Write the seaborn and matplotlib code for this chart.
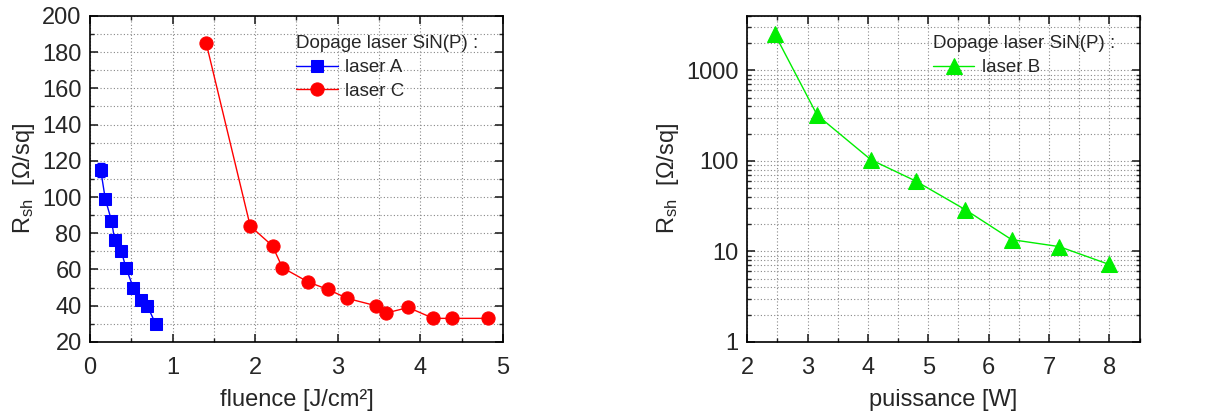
import numpy as np
import pandas as pd
import matplotlib
matplotlib.use("Agg")
import matplotlib.pyplot as plt
import seaborn as sns
from matplotlib.ticker import MultipleLocator, LogLocator, FixedLocator, NullFormatter

# laser A (fluence)
fluence_a = [0.13, 0.185, 0.26, 0.30, 0.38, 0.435, 0.524, 0.617, 0.694, 0.794]
rsh_a = [115, 99, 87, 76, 70, 61, 50, 43, 40, 30]
err_a = [4, 1.5, 1.5, 1.5, 1.5, 1.5, 1, 1, 1, 1]

# laser C (fluence)
fluence_c = [1.407, 1.94, 2.21, 2.33, 2.645, 2.88, 3.117, 3.46, 3.59, 3.855, 4.157, 4.387, 4.82]
rsh_c = [185, 84, 73, 61, 53, 49, 44, 40, 36, 39, 33, 33, 33]

# laser B (puissance)
power_b = [2.46, 3.16, 4.05, 4.79, 5.61, 6.38, 7.17, 7.99]
rsh_b = [2500, 320, 103, 60, 29, 13.5, 11.3, 7.2]

sns.set_style("ticks")
plt.rcParams['font.family'] = ['Liberation Sans', 'DejaVu Sans']
plt.rcParams['mathtext.fontset'] = 'custom'
plt.rcParams['mathtext.rm'] = 'Liberation Sans'
plt.rcParams['mathtext.it'] = 'Liberation Sans'

fig = plt.figure(figsize=(12.11, 4.19), dpi=100)
ax1 = fig.add_axes([0.0743, 0.184, 0.341, 0.778])
ax2 = fig.add_axes([0.617, 0.184, 0.324, 0.778])

df_a = pd.DataFrame({'x': fluence_a, 'y': rsh_a})
df_c = pd.DataFrame({'x': fluence_c, 'y': rsh_c})
df_b = pd.DataFrame({'x': power_b, 'y': rsh_b})

ax1.errorbar(fluence_a, rsh_a, yerr=err_a, fmt='none', ecolor='blue', elinewidth=1, capsize=3, zorder=3)
sns.lineplot(data=df_a, x='x', y='y', ax=ax1, color='blue', marker='s', markersize=8.5,
             markeredgecolor='blue', linewidth=1, label='laser A', sort=False, zorder=4)
sns.lineplot(data=df_c, x='x', y='y', ax=ax1, color='red', marker='o', markersize=9.5,
             markeredgecolor='red', linewidth=1, label='laser C', sort=False, zorder=4)
sns.lineplot(data=df_b, x='x', y='y', ax=ax2, color='#00ee00', marker='^', markersize=12,
             markeredgecolor='#00ee00', linewidth=1, label='laser B', sort=False, zorder=4)

grid_kw = dict(color='#888888', linestyle=(0, (1, 2)), linewidth=0.8)

ax1.set_xlim(0, 5)
ax1.set_ylim(20, 200)
ax1.xaxis.set_major_locator(MultipleLocator(1))
ax1.xaxis.set_minor_locator(MultipleLocator(0.5))
ax1.yaxis.set_major_locator(MultipleLocator(20))
ax1.yaxis.set_minor_locator(MultipleLocator(10))
ax1.set_xlabel('fluence [J/cm²]', fontsize=17, labelpad=7)
ax1.set_ylabel(r'R$_{\mathrm{sh}}$  [Ω/sq]', fontsize=17)

ax2.set_yscale('log')
ax2.set_xlim(2, 8.5)
ax2.set_ylim(1, 4000)
ax2.xaxis.set_major_locator(MultipleLocator(1))
ax2.xaxis.set_minor_locator(MultipleLocator(0.5))
ax2.yaxis.set_major_locator(FixedLocator([1, 10, 100, 1000]))
ax2.yaxis.set_minor_locator(LogLocator(base=10, subs=np.arange(2, 10)))
ax2.yaxis.set_minor_formatter(NullFormatter())
ax2.set_yticklabels(['1', '10', '100', '1000'])
ax2.set_xlabel('puissance [W]', fontsize=17, labelpad=7)
ax2.set_ylabel(r'R$_{\mathrm{sh}}$  [Ω/sq]', fontsize=17)

for ax in (ax1, ax2):
    ax.grid(True, which='both', **grid_kw)
    ax.set_axisbelow(True)
    ax.tick_params(which='both', direction='in', top=True, right=True, labelsize=17)
    ax.tick_params(which='major', length=6, width=1.2, pad=6)
    ax.tick_params(axis='x', which='major', pad=11)
    ax.tick_params(which='minor', length=3, width=1)
    for s in ax.spines.values():
        s.set_linewidth(1.2)
        s.set_color('black')
    leg = ax.legend(title='Dopage laser SiN(P) :', loc='upper right', frameon=False,
                    bbox_to_anchor=(1, 1.015),
                    fontsize=13.5, title_fontsize=13.5, handlelength=2.2, handletextpad=0.4,
                    borderaxespad=0.9, labelspacing=0.35)
    leg._legend_box.align = 'left'

fig.savefig('out.png', dpi=100)
